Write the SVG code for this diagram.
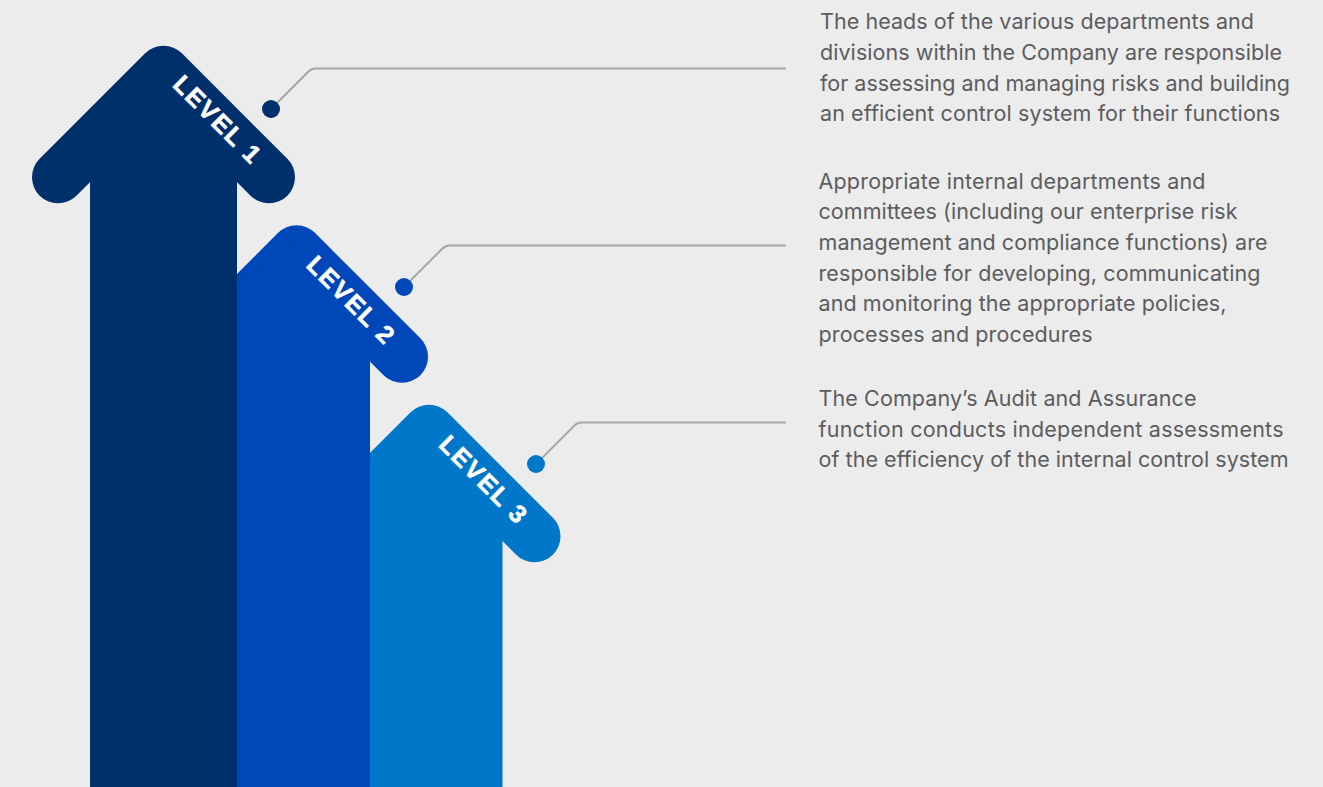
<svg xmlns="http://www.w3.org/2000/svg" width="1323" height="787" viewBox="0 0 1323 787">
  <style>
    .head { fill: none; stroke-width: 52; stroke-linecap: round; stroke-linejoin: round; }
    .lvl { font-family: "Liberation Sans", Arial, sans-serif; font-weight: 700; font-size: 25px; letter-spacing: 1.8px; fill: #ffffff; stroke: #ffffff; stroke-width: 0.6; text-anchor: middle; }
    .desc { font-family: Inter, "Liberation Sans", sans-serif; font-size: 21.5px; fill: #5c5c5e; }
    .conn { fill: none; stroke: #a7a7a7; stroke-width: 2; stroke-linejoin: round; }
  </style>
  <rect x="0" y="0" width="1323" height="787" fill="#ececec"/>

  <g id="arrow-3">
    <polyline class="head" stroke="#0077c8" points="323.5,536.25 429,430.75 534.5,536.25"/>
    <path d="M355.5,787 L355.5,471 L429,419 L502.5,471 L502.5,787 Z" fill="#0077c8"/>
    <text class="lvl" transform="translate(484,479.5) rotate(45)" x="0" y="9">LEVEL 3</text>
  </g>

  <g id="arrow-2">
    <polyline class="head" stroke="#0047ba" points="191,356.75 296.5,251.25 402,356.75"/>
    <path d="M223,787 L223,291.5 L296.5,239.5 L370,291.5 L370,787 Z" fill="#0047ba"/>
    <text class="lvl" transform="translate(351.5,300) rotate(45)" x="0" y="9">LEVEL 2</text>
  </g>

  <g id="arrow-1">
    <polyline class="head" stroke="#00306b" points="58,177.25 163.5,71.75 269,177.25"/>
    <path d="M90,787 L90,112 L163.5,60 L237,112 L237,787 Z" fill="#00306b"/>
    <text class="lvl" transform="translate(218,119.5) rotate(45)" x="0" y="9">LEVEL 1</text>
  </g>

  <g id="connectors">
    <path class="conn" d="M271,109 L308.5,71.5 Q311.5,68.5 315.5,68.5 L786,68.5"/>
    <path class="conn" d="M404,287 L442.5,248.5 Q445.5,245.5 449.5,245.5 L786,245.5"/>
    <path class="conn" d="M536,464 L574.5,425.5 Q577.5,422.5 581.5,422.5 L786,422.5"/>
    <circle cx="271" cy="109" r="9" fill="#00306b"/>
    <circle cx="404" cy="287" r="9" fill="#0047ba"/>
    <circle cx="536" cy="464" r="9" fill="#0077c8"/>
  </g>

  <g id="text-1" class="desc">
    <text x="820" y="29" textLength="434" lengthAdjust="spacing">The heads of the various departments and</text>
    <text x="820" y="60" textLength="462" lengthAdjust="spacing">divisions within the Company are responsible</text>
    <text x="820" y="90.5" textLength="470" lengthAdjust="spacing">for assessing and managing risks and building</text>
    <text x="820" y="120.5" textLength="460" lengthAdjust="spacing">an efficient control system for their functions</text>
  </g>

  <g id="text-2" class="desc">
    <text x="818.5" y="188.5" textLength="387" lengthAdjust="spacing">Appropriate internal departments and</text>
    <text x="818.5" y="219.3" textLength="419" lengthAdjust="spacing">committees (including our enterprise risk</text>
    <text x="818.5" y="250" textLength="449" lengthAdjust="spacing">management and compliance functions) are</text>
    <text x="818.5" y="280.7" textLength="442" lengthAdjust="spacing">responsible for developing, communicating</text>
    <text x="818.5" y="311.3" textLength="408" lengthAdjust="spacing">and monitoring the appropriate policies,</text>
    <text x="818.5" y="342" textLength="274" lengthAdjust="spacing">processes and procedures</text>
  </g>

  <g id="text-3" class="desc">
    <text x="818.5" y="406" textLength="378" lengthAdjust="spacing">The Company’s Audit and Assurance</text>
    <text x="818.5" y="436.7" textLength="465" lengthAdjust="spacing">function conducts independent assessments</text>
    <text x="818.5" y="467.3" textLength="470" lengthAdjust="spacing">of the efficiency of the internal control system</text>
  </g>
</svg>
